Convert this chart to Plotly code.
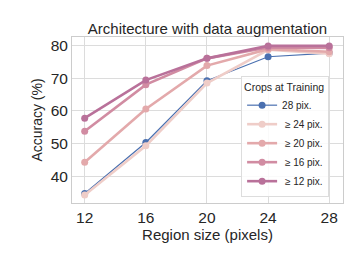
import plotly.graph_objects as go

region = [12, 16, 20, 24, 28]
series_names = ["28 pix.", " \u2265 24 pix.", " \u2265 20 pix.", " \u2265 16 pix.", " \u2265 12 pix."]
acc_28 = [34.9, 50.4, 69.2, 76.5, 77.6]
acc_ge24 = [34.4, 49.4, 68.5, 78.6, 77.4]
acc_ge20 = [44.4, 60.6, 73.8, 78.8, 78.0]
acc_ge16 = [53.8, 68.0, 76.0, 79.3, 79.2]
acc_ge12 = [57.8, 69.4, 76.0, 79.8, 79.8]
series_values = [acc_28, acc_ge24, acc_ge20, acc_ge16, acc_ge12]
colors = ["#4a70b0", "#efcdc8", "#e3a9ab", "#d18ca2", "#b9719a"]
widths = [1.2, 2.6, 2.6, 2.6, 2.6]

fig = go.Figure()
for name, vals, c, w in zip(series_names, series_values, colors, widths):
    fig.add_trace(go.Scatter(
        x=region, y=vals, name=name, mode="lines+markers",
        line=dict(color=c, width=w),
        marker=dict(color=c, size=7, symbol="circle"),
    ))

# page body has an 8px default margin, so the figure is 352x246 and offset by 8px
W, H = 352, 246
font = "Liberation Sans, Arial, sans-serif"
fig.update_layout(
    width=W, height=H,
    margin=dict(l=64, r=17, t=29, b=51, autoexpand=False),
    paper_bgcolor="white", plot_bgcolor="white",
    font=dict(family=font, color="#262626"),
    title=dict(text="Architecture with data augmentation", x=(64 + 335) / 2 / W,
               xref="container", xanchor="center", y=1 - 21 / H, yref="container",
               yanchor="middle", font=dict(size=15, color="#262626")),
    showlegend=True,
    legend=dict(
        title=dict(text="Crops at Training", font=dict(size=10.5)),
        font=dict(size=10),
        x=0.624, y=0.036, xanchor="left", yanchor="bottom",
        bgcolor="rgba(255,255,255,0.85)", bordercolor="#dddddd", borderwidth=1,
        tracegroupgap=0, itemwidth=30,
    ),
)
fig.update_xaxes(
    range=[11.17, 28.9], tickvals=region, ticktext=[str(v) for v in region],
    showgrid=True, gridcolor="#dcdcdc", gridwidth=1, automargin=False,
    showline=True, linecolor="#cccccc", linewidth=1, mirror=True,
    zeroline=False, ticks="", tickfont=dict(size=15.5),
    title=dict(text="Region size (pixels)", font=dict(size=15), standoff=1),
)
fig.update_yaxes(
    range=[32.0, 82.5], tickvals=[40, 50, 60, 70, 80],
    showgrid=True, gridcolor="#dcdcdc", gridwidth=1, automargin=False,
    showline=True, linecolor="#cccccc", linewidth=1, mirror=True,
    zeroline=False, ticks="", tickfont=dict(size=15.5),
    title=dict(text="Accuracy (%)", font=dict(size=14), standoff=4),
)
fig.write_html("out.html")
